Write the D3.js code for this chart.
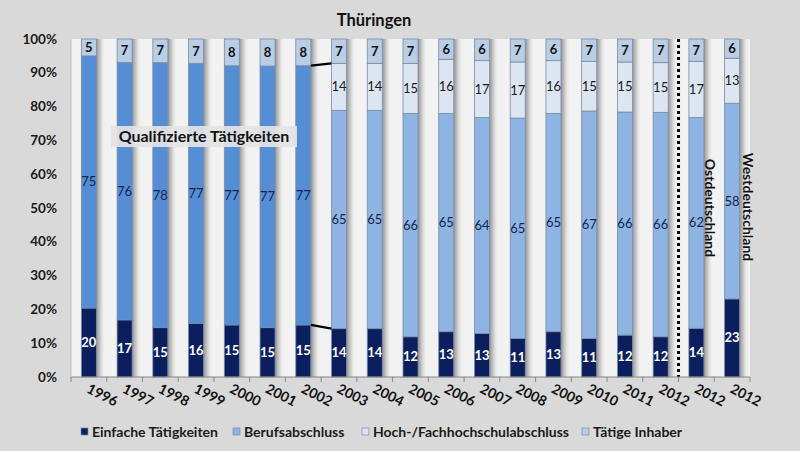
<!DOCTYPE html>
<html><head><meta charset="utf-8">
<script src="https://cdn.jsdelivr.net/npm/d3@7"></script>
<style>
html,body{margin:0;padding:0;background:#d9d9d9;}
svg{display:block;font-family:Lato,"Open Sans",sans-serif;}
</style></head>
<body><svg id="c" width="800" height="451"></svg>
<script>
// ---- data ----
const categories = ["1996","1997","1998","1999","2000","2001","2002","2003","2004","2005","2006","2007","2008","2009","2010","2011","2012","2012","2012"];
const einfache   = [20.4,16.9,14.6,15.8,15.4,14.6,15.4,14.3,14.3,11.9,13.4,12.9,11.4,13.4,11.4,12.4,11.9,14.4,23.1];
const beruf      = [74.6,76.2,78.4,77.0,76.7,77.4,76.7,64.6,64.6,66.1,64.6,63.9,65.2,64.6,67.3,66.0,66.4,62.4,57.9];
const hoch       = [null,null,null,null,null,null,null,13.9,13.9,14.8,16.0,16.8,16.6,15.6,14.7,14.8,14.7,16.6,13.3];
const inhaber    = [5.0,6.9,7.0,7.2,7.9,8.0,7.9,7.2,7.2,7.2,6.0,6.4,6.8,6.4,6.6,6.8,7.0,6.6,5.7];
const yTicks     = [0,10,20,30,40,50,60,70,80,90,100];
const seriesNames = ["Einfache Tätigkeiten","Berufsabschluss","Hoch-/Fachhochschulabschluss","Tätige Inhaber"];
const regionLabels = ["Ostdeutschland","Westdeutschland"];
const title = "Thüringen";
const noteLabel = "Qualifizierte Tätigkeiten";

// ---- styles ----
const colEinf = "#0b1f5e", colQual = "#558ed5", colBeruf = "#8db4e2", colHoch = "#dce6f2", colInh = "#b9cde5";

const svg = d3.select("#c");
const defs = svg.append("defs");
const g = defs.append("linearGradient").attr("id","shadow").attr("x1","0").attr("x2","1").attr("y1","0").attr("y2","0");
g.append("stop").attr("offset","0").attr("stop-color","#7f7f7f").attr("stop-opacity",0.85);
g.append("stop").attr("offset","0.45").attr("stop-color","#a6a6a6").attr("stop-opacity",0.5);
g.append("stop").attr("offset","1").attr("stop-color","#f2f2f2").attr("stop-opacity",0);

const idx = categories.map((d,i)=>i);
const x = d3.scaleBand().domain(idx).range([71,750]).padding(0);
const y = d3.scaleLinear().domain([0,100]).range([377,39]);
const bw = x.bandwidth()*0.42;
const bx = i => x(i) + (x.bandwidth()-bw)/2;

// plot area
svg.append("rect").attr("x",71).attr("y",39).attr("width",679).attr("height",338).attr("fill","#f2f2f2");

// stacks
const rows = idx.map(i=>{
  const segs = [];
  let acc = 0;
  const push=(v,fill,lcol,lw)=>{ if(v==null) return; segs.push({i,y0:acc,y1:acc+v,fill,v,lcol,lw}); acc+=v; };
  push(einfache[i],colEinf,"#ffffff","bold");
  push(beruf[i], hoch[i]==null?colQual:colBeruf,"#14244f","normal");
  push(hoch[i],colHoch,"#1a1a1a","normal");
  push(inhaber[i],colInh,"#111111","bold");
  return segs;
});

// shadows
svg.append("g").selectAll("rect").data(idx).join("rect")
  .attr("x",i=>bx(i)+bw).attr("width",9)
  .attr("y",i=>y(d3.sum(rows[i],s=>s.v))).attr("height",i=>y(0)-y(d3.sum(rows[i],s=>s.v)))
  .attr("fill","url(#shadow)");

const segs = rows.flat();
svg.append("g").selectAll("rect").data(segs).join("rect")
  .attr("x",d=>bx(d.i)).attr("width",bw)
  .attr("y",d=>y(d.y1)).attr("height",d=>y(d.y0)-y(d.y1))
  .attr("fill",d=>d.fill).attr("stroke","#7a8aa3").attr("stroke-width",0.8);

svg.append("g").selectAll("text").data(segs).join("text")
  .attr("x",d=>bx(d.i)+bw/2).attr("y",d=>y((d.y0+d.y1)/2)+4.5)
  .attr("text-anchor","middle").attr("font-size",13)
  .attr("font-weight",d=>d.lw).attr("fill",d=>d.lcol)
  .text(d=>Math.round(d.v));

// connector lines between 2002 and 2003
const a=6,b=7;
svg.append("line").attr("x1",bx(a)+bw).attr("y1",y(einfache[a]+beruf[a]))
  .attr("x2",bx(b)).attr("y2",y(einfache[b]+beruf[b]+hoch[b])).attr("stroke","#000").attr("stroke-width",2.2);
svg.append("line").attr("x1",bx(a)+bw).attr("y1",y(einfache[a]))
  .attr("x2",bx(b)).attr("y2",y(einfache[b])).attr("stroke","#000").attr("stroke-width",2.2);

// dotted separator
const sx = x(17);
svg.append("line").attr("x1",sx).attr("x2",sx).attr("y1",y(100)).attr("y2",y(0))
  .attr("stroke","#000").attr("stroke-width",3).attr("stroke-dasharray","3,3");

// x axis
const xa = svg.append("g");
xa.append("line").attr("x1",71).attr("x2",750).attr("y1",377).attr("y2",377).attr("stroke","#868686");
xa.append("line").attr("x1",71).attr("x2",71).attr("y1",39).attr("y2",377).attr("stroke","#bfbfbf");
xa.selectAll("line.t").data(d3.range(categories.length+1)).join("line").attr("class","t")
  .attr("x1",i=>71+i*x.bandwidth()).attr("x2",i=>71+i*x.bandwidth()).attr("y1",377).attr("y2",382).attr("stroke","#868686");
xa.selectAll("text").data(idx).join("text")
  .attr("transform",i=>`translate(${x(i)+x.bandwidth()/2-3},${392}) rotate(27)`)
  .attr("font-size",14).attr("font-weight","bold").attr("fill","#111")
  .text(i=>categories[i]);

// y axis
svg.append("g").selectAll("text").data(yTicks).join("text")
  .attr("x",57).attr("y",d=>y(d)+4.5).attr("text-anchor","end")
  .attr("font-size",13.5).attr("font-weight","bold").attr("fill","#1a1a1a")
  .text(d=>d+"%");

// title
svg.append("text").attr("x",374).attr("y",26).attr("text-anchor","middle")
  .attr("font-size",16.5).attr("font-weight","bold").attr("fill","#111").text(title);

// note box
svg.append("rect").attr("x",111).attr("y",126).attr("width",186).attr("height",21).attr("fill","#e4e4e4").attr("opacity",0.92);
svg.append("text").attr("x",204).attr("y",142).attr("text-anchor","middle")
  .attr("font-size",16).attr("font-weight","bold").attr("fill","#111").text(noteLabel);

// region labels
const rpos = [[710,208],[748,207]];
regionLabels.forEach((t,k)=>{
  svg.append("text").attr("transform",`translate(${rpos[k][0]},${rpos[k][1]}) rotate(90)`)
    .attr("text-anchor","middle").attr("dy","0.35em").attr("font-size",14).attr("font-weight","bold").attr("fill","#111").text(t);
});

// legend
const lcols=[colEinf,colBeruf,colHoch,colInh];
const lx=[81,233,362,582];
seriesNames.forEach((n,k)=>{
  svg.append("rect").attr("x",lx[k]).attr("y",428).attr("width",7).attr("height",7)
    .attr("fill",lcols[k]).attr("stroke","#7a8aa3").attr("stroke-width",0.7);
  svg.append("text").attr("x",lx[k]+11).attr("y",437).attr("font-size",14).attr("font-weight","bold").attr("fill","#1a1a1a").text(n);
});
</script></body></html>
